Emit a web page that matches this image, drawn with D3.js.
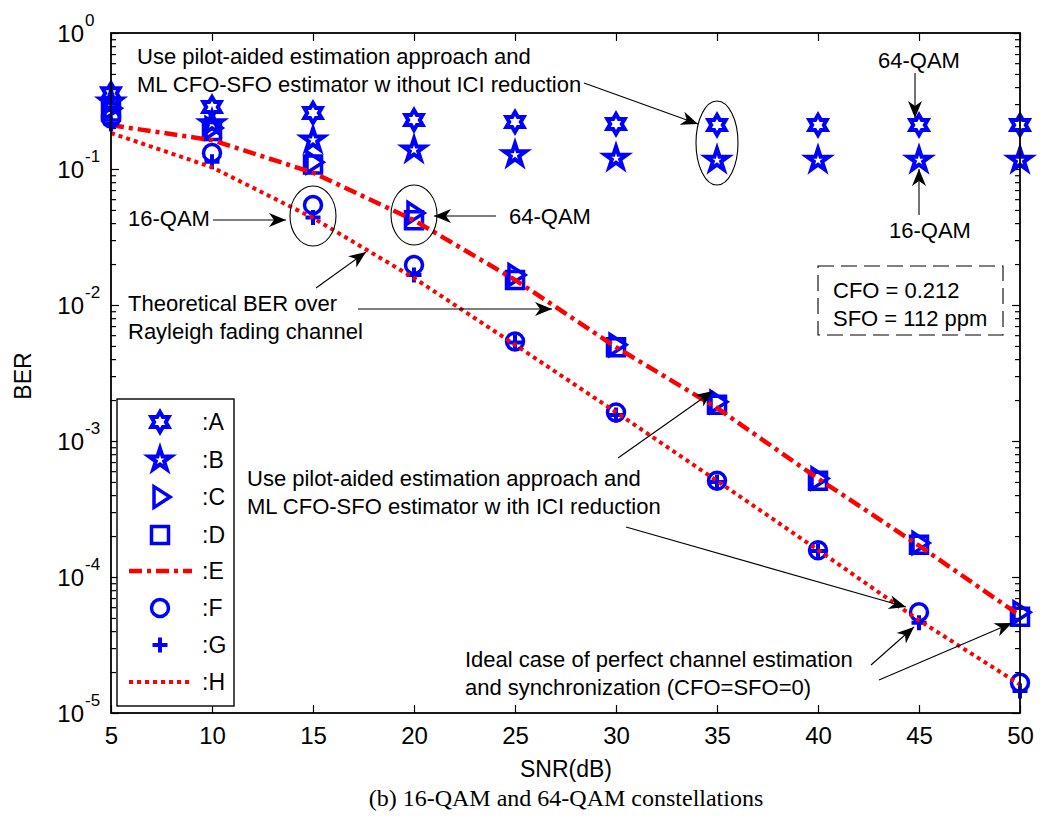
<!DOCTYPE html>
<html>
<head>
<meta charset="utf-8">
<script src="https://cdn.jsdelivr.net/npm/d3@7/dist/d3.min.js"></script>
<style>
  html, body { margin: 0; padding: 0; background: #fff; }
  svg text { font-family: "Liberation Sans", Arial, sans-serif; fill: #000; }
</style>
</head>
<body>
<svg id="chart" width="1040" height="817"></svg>
<script>
// SNR axis (dB)
const snr = [5, 10, 15, 20, 25, 30, 35, 40, 45, 50];
const xTicks = [5, 10, 15, 20, 25, 30, 35, 40, 45, 50];
const yExponents = [0, -1, -2, -3, -4, -5];

// A: 64-QAM, ML CFO-SFO estimator without ICI reduction
const serA = [0.36, 0.286, 0.258, 0.229, 0.222, 0.214, 0.211, 0.211, 0.211, 0.211];
// B: 16-QAM, ML CFO-SFO estimator without ICI reduction
const serB = [0.31, 0.215, 0.163, 0.138, 0.127, 0.120, 0.116, 0.116, 0.116, 0.116];
// C: 64-QAM, with ICI reduction
const serC = [0.28, 0.200, 0.112, 0.0475, 0.0166, 0.0051, 0.00194, 0.00053, 0.000178, 0.000055];
// D: 64-QAM, ideal channel estimation and synchronization
const serD = [0.265, 0.190, 0.108, 0.0420, 0.0153, 0.0049, 0.00185, 0.00051, 0.000173, 0.000051];
// E: theoretical BER, 64-QAM over Rayleigh fading
const serE = [0.21, 0.163, 0.094, 0.0420, 0.0153, 0.0049, 0.00175, 0.00053, 0.000170, 0.000052];
// F: 16-QAM, with ICI reduction
const serF = [0.235, 0.131, 0.0544, 0.0197, 0.0054, 0.00162, 0.00051, 0.000157, 0.000055, 0.0000167];
// G: 16-QAM, ideal channel estimation and synchronization
const serG = [0.215, 0.113, 0.0440, 0.0166, 0.0053, 0.00155, 0.00050, 0.000155, 0.000046, 0.0000145];
// H: theoretical BER, 16-QAM over Rayleigh fading
const serH = [0.184, 0.103, 0.0437, 0.0158, 0.0051, 0.00163, 0.00051, 0.000158, 0.000048, 0.0000162];

const legendLabels = [":A", ":B", ":C", ":D", ":E", ":F", ":G", ":H"];

const svg = d3.select("#chart");
const L = 111, R = 1020, T = 33, B = 713;
const x = d3.scaleLinear().domain([5, 50]).range([L, R]);
const y = d3.scaleLog().domain([1e-5, 1]).range([B, T]);

const blue = "#0000ff", red = "#ff0000";
const dashDot = "13,5,4,5", dotted = "4,4";

// ---------- axes ----------
const majors = yExponents.map(e => Math.pow(10, e));
const minors = [];
for (let e = -5; e < 0; e++) for (let m = 2; m <= 9; m++) minors.push(m * Math.pow(10, e));

function styleAxis(g) {
  g.select(".domain").remove();
  g.selectAll(".tick line").attr("stroke", "#000").attr("stroke-width", 1.2);
}
svg.append("g").attr("transform", `translate(0,${B})`)
  .call(d3.axisBottom(x).tickValues(xTicks).tickSize(-8).tickSizeOuter(0).tickPadding(14).tickFormat(d3.format("d")))
  .call(styleAxis)
  .call(g => g.selectAll("text").attr("font-size", 24).attr("font-family", "Liberation Sans, Arial, sans-serif").attr("fill", "#000"));
svg.append("g").attr("transform", `translate(0,${T})`)
  .call(d3.axisTop(x).tickValues(xTicks).tickSize(-8).tickSizeOuter(0).tickFormat(""))
  .call(styleAxis);
[[L, d3.axisLeft], [R, d3.axisRight]].forEach(([px, ax]) => {
  svg.append("g").attr("transform", `translate(${px},0)`)
    .call(ax(y).tickValues(majors).tickSize(-8).tickSizeOuter(0).tickFormat(""))
    .call(styleAxis);
  svg.append("g").attr("transform", `translate(${px},0)`)
    .call(ax(y).tickValues(minors).tickSize(-5).tickSizeOuter(0).tickFormat(""))
    .call(styleAxis);
});

// y tick labels: 10 with exponent
svg.append("g").selectAll("text").data(yExponents).join("text")
  .attr("x", 84).attr("y", d => y(Math.pow(10, d)) + 9)
  .attr("text-anchor", "end").attr("font-size", 24).text("10");
svg.append("g").selectAll("text").data(yExponents).join("text")
  .attr("x", 85).attr("y", d => y(Math.pow(10, d)) - 7)
  .attr("font-size", 17).text(d => d === 0 ? "0" : "-" + Math.abs(d));

svg.append("text").attr("transform", "translate(31,376) rotate(-90)")
  .attr("text-anchor", "middle").attr("font-size", 23).text("BER");
svg.append("text").attr("x", 566).attr("y", 777)
  .attr("text-anchor", "middle").attr("font-size", 23).text("SNR(dB)");
svg.append("text").attr("x", 566).attr("y", 806)
  .attr("text-anchor", "middle").attr("font-size", 24)
  .style("font-family", "'Liberation Serif', 'Times New Roman', serif")
  .text("(b) 16-QAM and 64-QAM constellations");

// ---------- marker shapes ----------
function starPath(n, Ro, Ri) {
  const pts = [];
  for (let k = 0; k < 2 * n; k++) {
    const a = -Math.PI / 2 + k * Math.PI / n;
    const r = k % 2 === 0 ? Ro : Ri;
    pts.push([r * Math.cos(a), r * Math.sin(a)]);
  }
  return "M" + pts.map(p => p.join(",")).join("L") + "Z";
}
const shapes = {
  hexagram: starPath(6, 10, 10 / Math.sqrt(3)),
  pentagram: starPath(5, 11.5, 11.5 * 0.382),
  triangle: "M10,0L-6,-10.4L-6,10.4Z",
  square: "M-8.5,-8.5H8.5V8.5H-8.5Z",
  circle: d3.arc()({innerRadius: 0, outerRadius: 8.5, startAngle: 0, endAngle: 2 * Math.PI}),
  plus: "M-7.5,0H7.5M0,-7.5V7.5"
};

const plotG = svg.append("g");
function drawMarkers(values, shape, sw) {
  plotG.append("g").selectAll("path").data(values).join("path")
    .attr("transform", (d, i) => `translate(${x(snr[i])},${y(d)})`)
    .attr("d", shapes[shape])
    .attr("fill", "none").attr("stroke", blue).attr("stroke-width", sw)
    .attr("stroke-linejoin", "miter");
}
const line = d3.line().x((d, i) => x(snr[i])).y(d => y(d));
function drawLine(values, dash, sw) {
  plotG.append("path").datum(values).attr("d", line)
    .attr("fill", "none").attr("stroke", red).attr("stroke-width", sw)
    .attr("stroke-dasharray", dash);
}

drawMarkers(serA, "hexagram", 4);
drawMarkers(serB, "pentagram", 4);
drawMarkers(serC, "triangle", 3.5);
drawMarkers(serD, "square", 3.5);
drawLine(serE, dashDot, 4.5);
drawMarkers(serF, "circle", 3.5);
drawMarkers(serG, "plus", 4);
drawLine(serH, dotted, 4);

// plot frame
svg.append("rect").attr("x", L).attr("y", T).attr("width", R - L).attr("height", B - T)
  .attr("fill", "none").attr("stroke", "#000").attr("stroke-width", 1.8);

// ---------- legend ----------
const leg = svg.append("g");
leg.append("rect").attr("x", 117).attr("y", 399).attr("width", 117).attr("height", 307)
  .attr("fill", "#fff").attr("stroke", "#000").attr("stroke-width", 1.4);
const legY = [422, 460, 497, 535, 571, 608, 645, 682];
const legKinds = [["m", "hexagram", 4], ["m", "pentagram", 4], ["m", "triangle", 3.5], ["m", "square", 3.5],
                  ["l", dashDot, 4.5], ["m", "circle", 3.5], ["m", "plus", 4], ["l", dotted, 4]];
legKinds.forEach((k, i) => {
  if (k[0] === "m") {
    leg.append("path").attr("transform", `translate(160,${legY[i]})`).attr("d", shapes[k[1]])
      .attr("fill", "none").attr("stroke", blue).attr("stroke-width", k[2]);
  } else {
    leg.append("line").attr("x1", 129).attr("x2", 192).attr("y1", legY[i]).attr("y2", legY[i])
      .attr("stroke", red).attr("stroke-width", k[2]).attr("stroke-dasharray", k[1]);
  }
  leg.append("text").attr("x", 202).attr("y", legY[i] + 8).attr("font-size", 23).text(legendLabels[i]);
});

// ---------- annotations ----------
const defs = svg.append("defs");
defs.append("marker").attr("id", "head").attr("markerUnits", "userSpaceOnUse")
  .attr("viewBox", "-18 -8 20 16").attr("refX", 0).attr("refY", 0)
  .attr("markerWidth", 20).attr("markerHeight", 16).attr("orient", "auto")
  .append("path").attr("d", "M0,0L-17,-7L-12,0L-17,7Z").attr("fill", "#000");

const ann = svg.append("g");
function arrow(x1, y1, x2, y2) {
  ann.append("line").attr("x1", x1).attr("y1", y1).attr("x2", x2).attr("y2", y2)
    .attr("stroke", "#000").attr("stroke-width", 1.1).attr("marker-end", "url(#head)");
}
function label(tx, ty, str) {
  ann.append("text").attr("x", tx).attr("y", ty).attr("font-size", 22).text(str);
}
function ellipse(cx, cy, rx, ry) {
  ann.append("ellipse").attr("cx", cx).attr("cy", cy).attr("rx", rx).attr("ry", ry)
    .attr("fill", "none").attr("stroke", "#000").attr("stroke-width", 1.1);
}

label(137, 64, "Use pilot-aided estimation approach and");
label(137, 92, "ML CFO-SFO estimator w ithout ICI reduction");
arrow(584, 83, 698, 124);
ellipse(x(35), 143, 21, 42);

label(878, 68, "64-QAM");
arrow(915, 73, 915, 118);
label(889, 238, "16-QAM");
arrow(919, 215, 919, 169);

label(128, 226, "16-QAM");
arrow(213, 220, 286, 220);
ellipse(x(15), 216, 23, 30);
ellipse(x(20), 215, 23, 30);
label(509, 224, "64-QAM");
arrow(496, 216, 434, 216);

label(128, 311, "Theoretical BER over");
label(128, 339, "Rayleigh fading channel");
arrow(316, 288, 366, 252);
arrow(358, 309, 552, 309);

ann.append("rect").attr("x", 818).attr("y", 266).attr("width", 185).attr("height", 69)
  .attr("fill", "none").attr("stroke", "#000").attr("stroke-width", 1.1).attr("stroke-dasharray", "16,7");
label(833, 298, "CFO = 0.212");
label(833, 326, "SFO = 112 ppm");

label(247, 486, "Use pilot-aided estimation approach and");
label(247, 514, "ML CFO-SFO estimator w ith ICI reduction");
arrow(618, 458, 713, 391);
arrow(626, 527, 906, 607);

label(465, 667, "Ideal case of perfect channel estimation");
label(465, 695, "and synchronization (CFO=SFO=0)");
arrow(871, 665, 914, 627);
arrow(879, 680, 1012, 623);
</script>
</body>
</html>
